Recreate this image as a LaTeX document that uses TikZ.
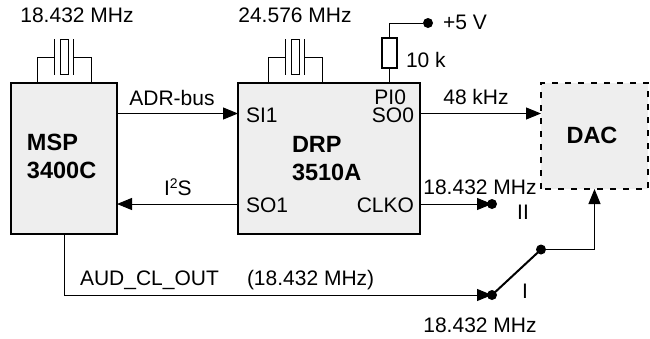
\documentclass[tikz,border=0pt]{standalone}
\usepackage{fontspec}
\setmainfont{Liberation Sans}
\usetikzlibrary{arrows.meta,calc}
\definecolor{boxfill}{HTML}{EEEEEE}
\tikzset{
  chip/.style={draw=black,fill=boxfill,line width=2.4pt,minimum width=#1,inner sep=0pt,outer sep=0pt},
  wire/.style={draw=black,line width=1pt},
  sig/.style={wire,-{Triangle[length=15pt,width=12pt]}},
  dot/.style={circle,fill=black,minimum size=10pt,inner sep=0pt,outer sep=0pt},
  lab/.style={font=\fontsize{21}{24}\selectfont,inner sep=0pt,outer sep=0pt,text=black},
  blab/.style={lab,font=\fontsize{23.5}{27}\selectfont\bfseries},
}
\begin{document}
\begin{tikzpicture}[x=1pt,y=-1pt]
\useasboundingbox (0,0) rectangle (650,338);
% blocks
\node[chip=106pt,minimum height=151pt] (msp) at (64,158.5) {};
\node[chip=182pt,minimum height=151pt] (drp) at (329,158.5) {};
\node[draw=none,fill=boxfill,minimum width=107pt,minimum height=106pt,inner sep=0pt,outer sep=0pt] (dac) at (594.5,136) {};
\draw[line width=2.4pt,dash pattern=on 6pt off 7pt] (dac.south west) rectangle (dac.north east);
% rows
\coordinate (rowA) at (0,113.5);
\coordinate (rowB) at (0,204);
\coordinate (rowC) at (0,295);
% crystals
\foreach \n/\c in {m/64,d/295}{
  \node[draw=black,line width=1pt,minimum width=8pt,minimum height=35pt,inner sep=0pt] (xt\n) at (\c,57) {};
  \draw[wire] ($(xt\n.north west)+(-5,0)$) -- ($(xt\n.south west)+(-5,0)$);
  \draw[wire] ($(xt\n.north east)+(5,0)$) -- ($(xt\n.south east)+(5,0)$);
  \draw[wire] ($(xt\n.west)+(-5,0)$) -- ++(-17.5,0) -- ++(0,26);
  \draw[wire] ($(xt\n.east)+(5,0)$) -- ++(17.5,0) -- ++(0,26);
}
% resistor
\node[draw=black,line width=1.5pt,minimum width=15pt,minimum height=30pt,inner sep=0pt] (res) at (389.5,53) {};
\node[dot] (vcc) at (428,23) {};
\draw[wire] (res.south) -- (res.south |- drp.north);
\draw[wire] (res.north) |- (vcc);
% switch dots
\node[dot] (pII) at (492,204) {};
\node[dot] (pI) at (492,295) {};
\node[dot] (pS) at (541,249.5) {};
% connectors
\draw[sig] (msp.east |- rowA) -- (drp.west |- rowA);
\draw[sig] (drp.east |- rowA) -- (dac.west |- rowA);
\draw[sig] (drp.west |- rowB) -- (msp.east |- rowB);
\draw[sig] (drp.east |- rowB) -- (pII.center);
\draw[sig] (msp.south) |- (pI.center);
\draw[line width=2pt] (pI.center) -- (pS.center);
\draw[sig] (pS.center) -| (dac.south);
% labels
\node[lab,anchor=base] (t1) at (77,22.5) {18.432 MHz};
\node[lab,anchor=base] (t2) at (295,22.5) {24.576 MHz};
\node[lab,anchor=base west] (t3) at (443,29.5) {+5 V};
\node[lab,anchor=base west] (t4) at (406,67.5) {10 k};
\node[lab,anchor=base] (t5) at (172,105.5) {ADR-bus};
\node[lab,anchor=base] (t6) at (476,104.5) {48 kHz};
\node[lab,anchor=base west] (t7) at (246,122.5) {SI1};
\node[lab,anchor=base west] (t8) at (246,212.5) {SO1};
\node[lab,anchor=base east] (t9) at (406,104.5) {PI0};
\node[lab,anchor=base east] (t10) at (414,122.5) {SO0};
\node[lab,anchor=base east] (t11) at (414,212.5) {CLKO};
\node[lab,anchor=base] (t12) at (480,194) {18.432 MHz};
\node[lab,anchor=base] (t13) at (523,219.5) {II};
\node[lab,anchor=base] (t14) at (525,298.5) {I};
\node[lab,anchor=base] (t15) at (480,332.5) {18.432 MHz};
\node[lab,anchor=base west] (t16) at (80,285.5) {AUD\_CL\_OUT};
\node[lab,anchor=base west] (t17) at (247,285.5) {(18.432 MHz)};
\node[lab,anchor=base west] (t18) at (164,195.5) {I\raisebox{7pt}{\fontsize{14}{14}\selectfont 2}S};
\node[blab,anchor=base west] (t19) at (27,150) {MSP};
\node[blab,anchor=base west] (t20) at (27,178.5) {3400C};
\node[blab,anchor=base west] (t21) at (292,152) {DRP};
\node[blab,anchor=base west] (t22) at (292,180.5) {3510A};
\node[blab,anchor=base] (t23) at (592,143) {DAC};
\end{tikzpicture}
\end{document}
